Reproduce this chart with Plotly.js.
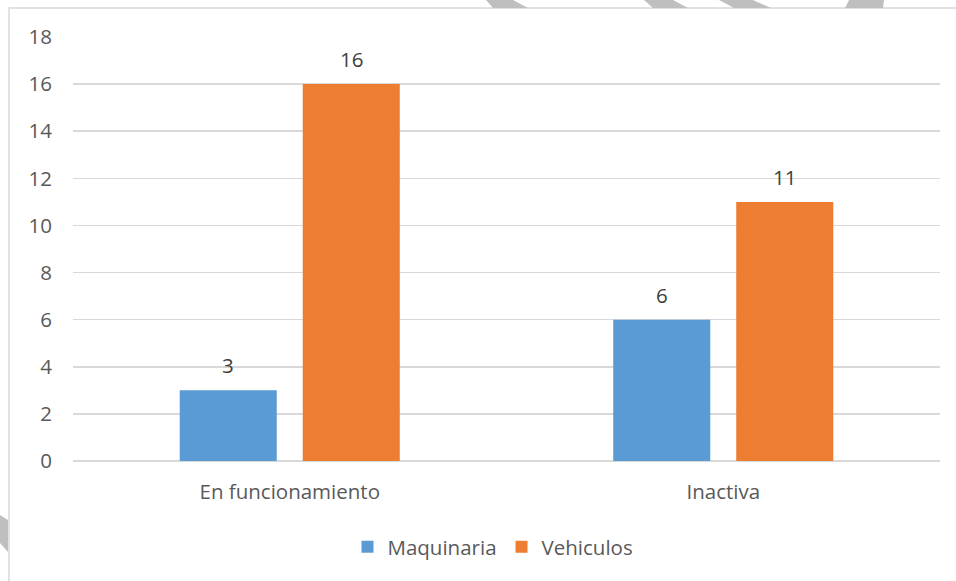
<!DOCTYPE html>
<html>
<head>
<meta charset="utf-8">
<script src="https://cdn.plot.ly/plotly-3.0.1.min.js"></script>
<style>
html,body{margin:0;padding:0;background:#fff;}
#chart{width:956px;height:581px;}
</style>
</head>
<body>
<div id="chart"></div>
<script>
var categories = ["En funcionamiento", "Inactiva"];
var maquinaria = [3, 6];
var vehiculos = [16, 11];
var seriesNames = ["Maquinaria", "Vehiculos"];
var yTicks = [0, 2, 4, 6, 8, 10, 12, 14, 16, 18];

var W = 956, H = 581;
var L = 73, R = 16, T = 37, B = 120;
var pw = W - L - R, ph = H - T - B;
function px(x){ return (x - L) / pw; }
function py(y){ return (H - B - y) / ph; }
function poly(pts){
  return pts.map(function(p,i){ return (i? 'L':'M') + px(p[0]) + ',' + py(p[1]); }).join(' ') + ' Z';
}

var BARGAP = 0.4325, GROUPGAP = 0.211;
var slotPx = pw / categories.length * (1 - BARGAP) / 2;

var font = "'Open Sans', Lato, Calibri, sans-serif";
var FS = 20.5;
var trace1 = {
  type: 'bar', name: seriesNames[0], x: categories, y: maquinaria,
  marker: {color: '#5b9bd5'}
};
var trace2 = {
  type: 'bar', name: seriesNames[1], x: categories, y: vehiculos,
  marker: {color: '#ed7d31'}
};

var annotations = [];
[maquinaria, vehiculos].forEach(function(vals, si){
  vals.forEach(function(v, ci){
    annotations.push({
      x: categories[ci], y: v, xref: 'x', yref: 'y',
      text: String(v), showarrow: false,
      xanchor: 'center', yanchor: 'bottom',
      xshift: (si === 0 ? -1 : 1) * slotPx / 2, yshift: 9,
      font: {family: font, size: FS, color: '#404040'}
    });
  });
});

var deco = '#bfbfbf';
var shapes = [
  {type:'rect', xref:'paper', yref:'paper', x0:px(9), x1:px(960), y0:py(8), y1:py(590),
   line:{color:'#d9d9d9', width:1.5}, layer:'below'},
  {type:'path', xref:'paper', yref:'paper', path: poly([[486,0],[513,0],[528,8],[493,8]]), fillcolor:deco, line:{width:0}},
  {type:'path', xref:'paper', yref:'paper', path: poly([[644,0],[673,0],[688,8],[653,8]]), fillcolor:deco, line:{width:0}},
  {type:'path', xref:'paper', yref:'paper', path: poly([[719,0],[753,0],[771,8],[734,8]]), fillcolor:deco, line:{width:0}},
  {type:'path', xref:'paper', yref:'paper', path: poly([[849,0],[884,0],[883,8],[845,8]]), fillcolor:deco, line:{width:0}},
  {type:'path', xref:'paper', yref:'paper', path: poly([[0,515],[8,520],[8,552],[0,543]]), fillcolor:deco, line:{width:0}}
];

var layout = {
  width: W, height: H,
  margin: {l: L, r: R, t: T, b: B},
  paper_bgcolor: '#fff', plot_bgcolor: '#fff',
  barmode: 'group', bargap: BARGAP, bargroupgap: GROUPGAP,
  showlegend: true,
  legend: {orientation: 'h', x: px(493), xanchor: 'center', y: py(547), yanchor: 'middle',
           font: {family: font, size: FS, color: '#595959'}, itemwidth: 16, traceorder: 'normal'},
  xaxis: {type: 'category', showgrid: false, showline: false, zeroline: false, ticks: '',
          tickfont: {family: font, size: FS, color: '#595959'}, ticklabelstandoff: 16},
  yaxis: {range: [0, 18], tickvals: yTicks, ticktext: yTicks.map(String),
          showgrid: true, gridcolor: '#d9d9d9', gridwidth: 1.5, zeroline: true, zerolinecolor: '#d9d9d9', zerolinewidth: 1.5,
          showline: false, ticks: '', ticklabelstandoff: 20,
          tickfont: {family: font, size: FS, color: '#595959'}},
  annotations: annotations,
  shapes: shapes
};

Plotly.newPlot('chart', [trace1, trace2], layout, {displayModeBar: false, staticPlot: true});
</script>
</body>
</html>
